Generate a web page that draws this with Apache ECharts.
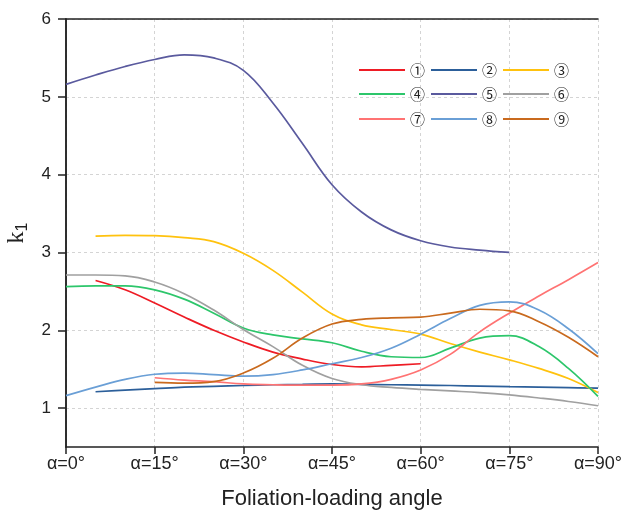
<!DOCTYPE html>
<html>
<head>
<meta charset="utf-8">
<script src="https://cdn.jsdelivr.net/npm/echarts@6/dist/echarts.min.js"></script>
<style>
  html, body { margin: 0; padding: 0; background: #fff; }
  #chart { width: 624px; height: 513px; }
</style>
</head>
<body>
<div id="chart"></div>
<script>
// Foliation-loading angle (degrees) sampled every 5°
const angles = [0, 5, 10, 15, 20, 25, 30, 35, 40, 45, 50, 55, 60, 65, 70, 75, 80, 85, 90];
const xTickLabels = { 0: 'α=0°', 15: 'α=15°', 30: 'α=30°', 45: 'α=45°', 60: 'α=60°', 75: 'α=75°', 90: 'α=90°' };
const yTicks = [1, 2, 3, 4, 5, 6];

// k1 per specimen group (null = not measured at that angle)
const k1_1 = [null, 2.64, 2.52, 2.35, 2.17, 2.00, 1.85, 1.72, 1.63, 1.56, 1.53, 1.55, 1.57, null, null, null, null, null, null];
const k1_2 = [null, 1.21, 1.23, 1.25, 1.27, 1.28, 1.29, 1.30, 1.305, 1.31, 1.305, 1.30, 1.295, 1.29, 1.283, 1.275, 1.27, 1.263, 1.257];
const k1_3 = [null, 3.21, 3.22, 3.215, 3.19, 3.14, 2.99, 2.77, 2.49, 2.21, 2.07, 2.01, 1.95, 1.83, 1.72, 1.62, 1.51, 1.38, 1.20];
const k1_4 = [2.56, 2.57, 2.57, 2.52, 2.40, 2.22, 2.03, 1.94, 1.89, 1.84, 1.73, 1.66, 1.65, 1.77, 1.90, 1.93, 1.79, 1.51, 1.15];
const k1_5 = [5.16, 5.28, 5.39, 5.48, 5.54, 5.50, 5.34, 4.92, 4.40, 3.87, 3.52, 3.29, 3.15, 3.07, 3.03, 3.00, null, null, null];
const k1_6 = [2.71, 2.71, 2.70, 2.62, 2.47, 2.26, 2.01, 1.79, 1.55, 1.38, 1.30, 1.265, 1.24, 1.22, 1.20, 1.17, 1.13, 1.085, 1.03];
const k1_7 = [null, null, null, 1.39, 1.36, 1.34, 1.31, 1.30, 1.295, 1.295, 1.31, 1.37, 1.49, 1.69, 1.98, 2.22, 2.44, 2.65, 2.87];
const k1_8 = [1.16, 1.27, 1.37, 1.435, 1.45, 1.43, 1.41, 1.43, 1.49, 1.57, 1.65, 1.77, 1.95, 2.15, 2.32, 2.365, 2.26, 2.02, 1.70];
const k1_9 = [null, null, null, 1.33, 1.32, 1.34, 1.45, 1.64, 1.90, 2.08, 2.14, 2.16, 2.17, 2.22, 2.27, 2.25, 2.11, 1.91, 1.66];

const names = ['①', '②', '③', '④', '⑤', '⑥', '⑦', '⑧', '⑨'];
const values = [k1_1, k1_2, k1_3, k1_4, k1_5, k1_6, k1_7, k1_8, k1_9];
const colors = ['#EE1C25', '#2C5F9A', '#FFC20E', '#2DC66B', '#5A5A9E', '#A0A0A0', '#FF7373', '#6A9FD6', '#C96A1E'];

const axisColor = '#222';
const sansFont = "'Liberation Sans', Arial, sans-serif";
const gridLine = { show: true, lineStyle: { color: '#d4d4d4', type: [3, 3], width: 1 } };

const series = values.map((vals, i) => ({
  name: names[i],
  type: 'line',
  data: angles.map((a, j) => [a, vals[j]]).filter(p => p[1] !== null),
  smooth: 0.4,
  symbol: 'none',
  color: colors[i],
  lineStyle: { width: 1.7, color: colors[i] }
}));

// one legend per row: short line swatch followed by the circled number
function legendRow(items, top) {
  return {
    data: items.map(n => ({ name: n, icon: 'rect' })),
    left: 359,
    top: top,
    padding: 0,
    itemWidth: 46,
    itemHeight: 2,
    itemGap: 6,
    selectedMode: false,
    textStyle: { fontSize: 15, lineHeight: 16, color: '#222', fontFamily: "'Noto Sans CJK SC'" }
  };
}

const chart = echarts.init(document.getElementById('chart'), null, { renderer: 'canvas' });
chart.setOption({
  animation: false,
  backgroundColor: '#fff',
  grid: { left: 66, right: 26, top: 19, bottom: 66, containLabel: false, outerBoundsMode: 'none' },
  legend: [
    legendRow(names.slice(0, 3), 62),
    legendRow(names.slice(3, 6), 86),
    legendRow(names.slice(6, 9), 111)
  ],
  xAxis: [
    {
      type: 'value', min: 0, max: 90, interval: 15,
      axisLine: { lineStyle: { color: axisColor, width: 1.5 } },
      axisTick: { show: true, inside: false, length: 7, lineStyle: { color: axisColor, width: 1.5 } },
      axisLabel: { formatter: v => xTickLabels[v] || '', fontSize: 18, color: '#222', margin: 8, fontFamily: sansFont },
      splitLine: gridLine,
      name: 'Foliation-loading angle', nameLocation: 'middle', nameGap: 41,
      nameTextStyle: { fontSize: 22, color: '#222', fontFamily: sansFont }
    },
    {
      type: 'value', position: 'top', min: 0, max: 90, interval: 15,
      axisLine: { show: true, lineStyle: { color: axisColor, width: 1.5 } },
      axisTick: { show: false }, axisLabel: { show: false }, splitLine: { show: false }
    }
  ],
  yAxis: [
    {
      type: 'value', min: 0.5, max: 6,
      axisLine: { show: true, lineStyle: { color: axisColor, width: 1.5 } },
      axisTick: { show: true, inside: false, length: 8, customValues: yTicks, lineStyle: { color: axisColor, width: 1.5 } },
      axisLabel: { customValues: yTicks, fontSize: 17, color: '#222', margin: 15, fontFamily: sansFont },
      splitLine: gridLine,
      name: '{k|k}{s|1}', nameLocation: 'middle', nameGap: 32, nameRotate: 90,
      nameTextStyle: {
        rich: {
          k: { fontSize: 24, fontFamily: "'Liberation Serif', serif", color: '#222', lineHeight: 28 },
          s: { fontSize: 16, fontFamily: sansFont, color: '#222', lineHeight: 15, verticalAlign: 'bottom' }
        }
      }
    },
    {
      type: 'value', position: 'right', min: 0.5, max: 6,
      axisLine: { show: true, lineStyle: { color: axisColor, width: 1.5 } },
      axisTick: { show: true, inside: true, length: 8, customValues: yTicks, lineStyle: { color: axisColor, width: 1.5 } },
      axisLabel: { show: false }, splitLine: { show: false }
    }
  ],
  series: series
});
</script>
</body>
</html>
